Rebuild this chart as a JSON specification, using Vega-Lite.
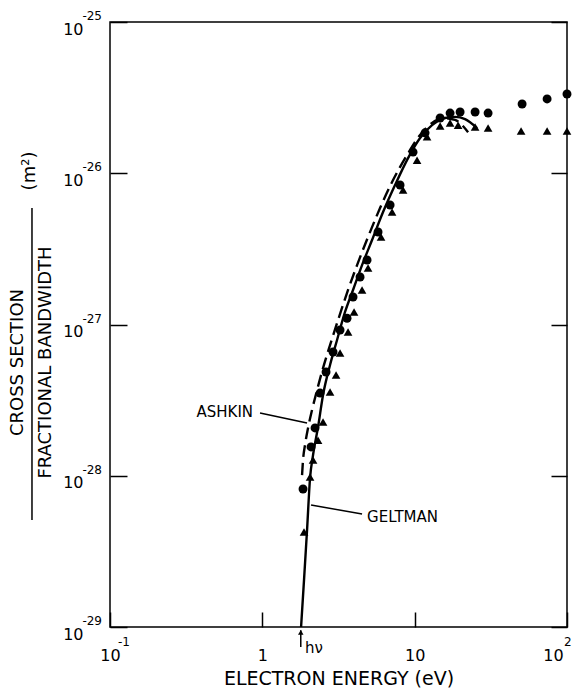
{
  "$schema": "https://vega.github.io/schema/vega-lite/v6.json",
  "width": 457,
  "height": 605,
  "autosize": {"type": "none"},
  "padding": {"left": 110, "top": 22, "right": 5, "bottom": 62},
  "background": "white",
  "config": {
    "view": {"stroke": "black", "strokeWidth": 1.5},
    "axis": {"domain": false, "grid": false, "tickColor": "black", "tickWidth": 1.5, "labelColor": "black", "titleColor": "black", "labelFont": "DejaVu Sans", "titleFont": "DejaVu Sans", "titleFontWeight": "normal"}
  },
  "datasets": {
    "geltman": [
      {"energy": 1.796, "xs": 1e-29}, {"energy": 1.878, "xs": 2.05e-29}, {"energy": 1.966, "xs": 4.38e-29},
      {"energy": 2.057, "xs": 9.66e-29}, {"energy": 2.152, "xs": 1.37e-28}, {"energy": 2.321, "xs": 2.10e-28},
      {"energy": 2.503, "xs": 3.42e-28}, {"energy": 2.783, "xs": 5.40e-28}, {"energy": 3.094, "xs": 7.90e-28},
      {"energy": 3.491, "xs": 1.21e-27}, {"energy": 3.939, "xs": 1.69e-27}, {"energy": 4.515, "xs": 2.47e-27},
      {"energy": 5.252, "xs": 3.62e-27}, {"energy": 6.202, "xs": 5.54e-27}, {"energy": 7.434, "xs": 8.36e-27},
      {"energy": 9.05, "xs": 1.26e-26}, {"energy": 10.85, "xs": 1.71e-26}, {"energy": 13.01, "xs": 2.08e-26},
      {"energy": 15.84, "xs": 2.32e-26}, {"energy": 18.42, "xs": 2.36e-26}, {"energy": 21.42, "xs": 2.28e-26},
      {"energy": 25.69, "xs": 1.99e-26}
    ],
    "ashkin": [
      {"energy": 1.823, "xs": 1.01e-28}, {"energy": 1.850, "xs": 1.27e-28}, {"energy": 1.907, "xs": 1.60e-28},
      {"energy": 1.996, "xs": 2.07e-28}, {"energy": 2.120, "xs": 2.72e-28}, {"energy": 2.287, "xs": 3.69e-28},
      {"energy": 2.503, "xs": 5.15e-28}, {"energy": 2.783, "xs": 7.31e-28}, {"energy": 3.141, "xs": 1.07e-27},
      {"energy": 3.599, "xs": 1.62e-27}, {"energy": 4.187, "xs": 2.47e-27}, {"energy": 4.943, "xs": 3.79e-27},
      {"energy": 5.927, "xs": 5.89e-27}, {"energy": 7.215, "xs": 9.02e-27}, {"energy": 8.915, "xs": 1.32e-26},
      {"energy": 10.85, "xs": 1.79e-26}, {"energy": 13.01, "xs": 2.15e-26}, {"energy": 15.37, "xs": 2.32e-26},
      {"energy": 18.42, "xs": 2.25e-26}, {"energy": 22.42, "xs": 1.87e-26}
    ],
    "circles": [
      {"energy": 1.850, "xs": 8.17e-29}, {"energy": 2.088, "xs": 1.55e-28}, {"energy": 2.218, "xs": 2.07e-28},
      {"energy": 2.393, "xs": 3.52e-28}, {"energy": 2.620, "xs": 4.85e-28}, {"energy": 2.912, "xs": 6.58e-28},
      {"energy": 3.237, "xs": 9.20e-28}, {"energy": 3.599, "xs": 1.10e-27}, {"energy": 3.939, "xs": 1.52e-27},
      {"energy": 4.381, "xs": 2.06e-27}, {"energy": 4.870, "xs": 2.67e-27}, {"energy": 5.750, "xs": 4.09e-27},
      {"energy": 6.896, "xs": 6.17e-27}, {"energy": 8.019, "xs": 8.36e-27}, {"energy": 9.761, "xs": 1.38e-26},
      {"energy": 11.70, "xs": 1.85e-26}, {"energy": 14.69, "xs": 2.32e-26}, {"energy": 17.08, "xs": 2.50e-26},
      {"energy": 19.87, "xs": 2.54e-26}, {"energy": 24.93, "xs": 2.54e-26}, {"energy": 30.34, "xs": 2.50e-26},
      {"energy": 50.73, "xs": 2.87e-26}, {"energy": 74.03, "xs": 3.10e-26}, {"energy": 100, "xs": 3.34e-26}
    ],
    "triangles": [
      {"energy": 1.878, "xs": 4.25e-29}, {"energy": 2.057, "xs": 9.81e-29}, {"energy": 2.152, "xs": 1.27e-28},
      {"energy": 2.321, "xs": 1.72e-28}, {"energy": 2.503, "xs": 2.27e-28}, {"energy": 2.783, "xs": 3.58e-28},
      {"energy": 3.048, "xs": 4.63e-28}, {"energy": 3.237, "xs": 6.48e-28}, {"energy": 3.653, "xs": 8.92e-28},
      {"energy": 4.000, "xs": 1.21e-27}, {"energy": 4.515, "xs": 1.69e-27}, {"energy": 4.943, "xs": 2.36e-27},
      {"energy": 6.017, "xs": 3.79e-27}, {"energy": 7.107, "xs": 5.54e-27}, {"energy": 8.391, "xs": 7.75e-27},
      {"energy": 10.37, "xs": 1.22e-26}, {"energy": 12.06, "xs": 1.74e-26}, {"energy": 14.69, "xs": 2.05e-26},
      {"energy": 17.08, "xs": 2.15e-26}, {"energy": 19.28, "xs": 2.08e-26}, {"energy": 24.93, "xs": 2.02e-26},
      {"energy": 30.34, "xs": 1.99e-26}, {"energy": 49.96, "xs": 1.90e-26}, {"energy": 74.03, "xs": 1.90e-26},
      {"energy": 100, "xs": 1.90e-26}
    ],
    "rules": [
      {"name": "ashkin leader", "x1": 0.9658, "y1": 2.60e-28, "x2": 1.966, "y2": 2.23e-28},
      {"name": "geltman leader", "x1": 2.088, "y1": 6.41e-29, "x2": 4.515, "y2": 5.58e-29},
      {"name": "fraction bar", "x1": 0.03075, "y1": 5.89e-27, "x2": 0.03075, "y2": 5.10e-29},
      {"name": "h nu arrow", "x1": 1.788, "y1": 7.38e-30, "x2": 1.788, "y2": 9.5e-30}
    ],
    "arrowhead": [{"energy": 1.788, "xs": 9.2e-30}],
    "leftlabels": [
      {"text": "ASHKIN", "energy": 0.869, "xs": 2.64e-28}
    ],
    "rightlabels": [
      {"text": "GELTMAN", "energy": 4.87, "xs": 5.33e-29},
      {"text": "hν", "energy": 1.907, "xs": 7.26e-30}
    ],
    "unit": [
      {"text": "(m²)", "energy": 0.02984, "xs": 1.035e-26}
    ],
    "yexp": [
      {"text": "-29", "energy": 0.1, "xs": 1e-29},
      {"text": "-28", "energy": 0.1, "xs": 1e-28},
      {"text": "-27", "energy": 0.1, "xs": 1e-27},
      {"text": "-26", "energy": 0.1, "xs": 1e-26},
      {"text": "-25", "energy": 0.1, "xs": 1e-25}
    ],
    "xexp": [
      {"text": "-1", "energy": 0.1128, "xs": 1e-29},
      {"text": "2", "energy": 95.56, "xs": 1e-29}
    ]
  },
  "resolve": {"axis": {"x": "independent", "y": "independent"}},
  "layer": [
    {
      "data": {"name": "geltman"},
      "mark": {"type": "line", "color": "black", "strokeWidth": 2.4, "interpolate": "monotone"},
      "encoding": {
        "x": {"field": "energy", "type": "quantitative",
          "scale": {"type": "log", "domain": [0.1, 100], "nice": false},
          "axis": {"orient": "bottom", "values": [0.1, 1, 10, 100], "tickSize": -15, "labelPadding": 35, "labelFontSize": 16,
            "labelFlush": false,
            "labelOffset": {"condition": {"test": "datum.value > 50", "value": -14}, "value": 0},
            "labelExpr": "datum.value < 5 && datum.value > 0.5 ? '1' : '10'",
            "title": "ELECTRON ENERGY (eV)", "titleFontSize": 19, "titleBaseline": "middle", "titleY": 51}},
        "y": {"field": "xs", "type": "quantitative",
          "scale": {"type": "log", "domain": [1e-29, 1e-25], "nice": false},
          "axis": {"orient": "left", "values": [1e-29, 1e-28, 1e-27, 1e-26, 1e-25], "tickSize": -17, "labelPadding": 44,
            "labelFontSize": 16, "labelBaseline": "alphabetic", "labelOffset": 12, "labelFlush": false,
            "labelExpr": "'10'",
            "title": ["CROSS SECTION", "FRACTIONAL BANDWIDTH"], "titleFontSize": 18, "titleLineHeight": 28,
            "titleBaseline": "middle", "titleAngle": -90, "titleX": -93, "titleY": 340}}
      }
    },
    {
      "data": {"name": "ashkin"},
      "mark": {"type": "line", "color": "black", "strokeWidth": 2.4, "strokeDash": [12, 6], "interpolate": "monotone"},
      "encoding": {
        "x": {"field": "energy", "type": "quantitative", "axis": null},
        "y": {"field": "xs", "type": "quantitative", "axis": null}
      }
    },
    {
      "data": {"name": "circles"},
      "mark": {"type": "point", "shape": "circle", "filled": true, "color": "black", "size": 80, "opacity": 1},
      "encoding": {
        "x": {"field": "energy", "type": "quantitative", "axis": null},
        "y": {"field": "xs", "type": "quantitative", "axis": null}
      }
    },
    {
      "data": {"name": "triangles"},
      "mark": {"type": "point", "shape": "triangle-up", "filled": true, "color": "black", "size": 75, "opacity": 1},
      "encoding": {
        "x": {"field": "energy", "type": "quantitative", "axis": null},
        "y": {"field": "xs", "type": "quantitative",
          "axis": {"orient": "right", "values": [1e-29, 1e-28, 1e-27, 1e-26, 1e-25], "tickSize": -16, "labels": false, "title": null}}
      }
    },
    {
      "data": {"name": "rules"},
      "mark": {"type": "rule", "color": "black", "strokeWidth": 1.5},
      "encoding": {
        "x": {"field": "x1", "type": "quantitative", "axis": null},
        "y": {"field": "y1", "type": "quantitative", "axis": null},
        "x2": {"field": "x2"},
        "y2": {"field": "y2"}
      }
    },
    {
      "data": {"name": "arrowhead"},
      "mark": {"type": "point", "shape": "triangle-up", "filled": true, "color": "black", "size": 30, "opacity": 1},
      "encoding": {
        "x": {"field": "energy", "type": "quantitative", "axis": null},
        "y": {"field": "xs", "type": "quantitative", "axis": null}
      }
    },
    {
      "data": {"name": "leftlabels"},
      "mark": {"type": "text", "font": "DejaVu Sans", "fontSize": 15, "color": "black", "align": "right", "baseline": "middle"},
      "encoding": {
        "x": {"field": "energy", "type": "quantitative", "axis": null},
        "y": {"field": "xs", "type": "quantitative", "axis": null},
        "text": {"field": "text"}
      }
    },
    {
      "data": {"name": "rightlabels"},
      "mark": {"type": "text", "font": "DejaVu Sans", "fontSize": 15, "color": "black", "align": "left", "baseline": "middle"},
      "encoding": {
        "x": {"field": "energy", "type": "quantitative", "axis": null},
        "y": {"field": "xs", "type": "quantitative", "axis": null},
        "text": {"field": "text"}
      }
    },
    {
      "data": {"name": "unit"},
      "mark": {"type": "text", "font": "DejaVu Sans", "fontSize": 18, "color": "black", "align": "center", "baseline": "middle", "angle": 270},
      "encoding": {
        "x": {"field": "energy", "type": "quantitative", "axis": null},
        "y": {"field": "xs", "type": "quantitative", "axis": null},
        "text": {"field": "text"}
      }
    },
    {
      "data": {"name": "yexp"},
      "mark": {"type": "text", "font": "DejaVu Sans", "fontSize": 12, "color": "black", "align": "right", "baseline": "middle", "dx": -8, "dy": -6},
      "encoding": {
        "x": {"field": "energy", "type": "quantitative", "axis": null},
        "y": {"field": "xs", "type": "quantitative", "axis": null},
        "text": {"field": "text"}
      }
    },
    {
      "data": {"name": "xexp"},
      "mark": {"type": "text", "font": "DejaVu Sans", "fontSize": 12, "color": "black", "align": "left", "baseline": "middle", "dy": 15},
      "encoding": {
        "x": {"field": "energy", "type": "quantitative", "axis": null},
        "y": {"field": "xs", "type": "quantitative", "axis": null},
        "text": {"field": "text"}
      }
    }
  ]
}
